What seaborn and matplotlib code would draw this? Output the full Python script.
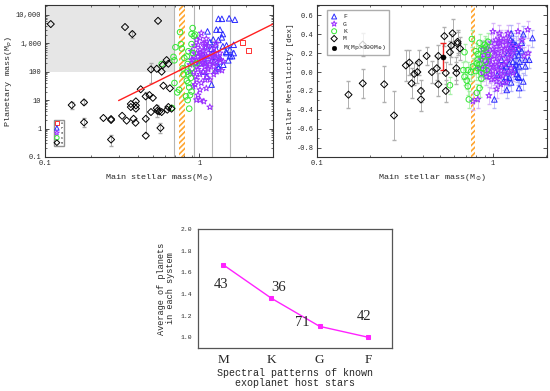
import numpy as np
import pandas as pd
import matplotlib
matplotlib.use("Agg")
import matplotlib.pyplot as plt
import seaborn as sns
from matplotlib.patches import Rectangle
from matplotlib.ticker import FixedLocator, LogLocator, MultipleLocator, NullFormatter

# ---------------- data: panel 1 (planet mass vs stellar mass) ----------------
a_mass_1 = [1.91, 2.08]
a_mp_1 = [1070, 560]

f_mass_1 = [1.33, 1.40, 1.56, 1.70, 1.13, 1.29, 1.36, 1.42, 1.23, 1.33, 1.50, 1.58, 1.67, 1.63,
            1.20, 1.27, 1.36, 1.33, 1.33, 1.20, 1.12, 1.22, 1.24, 1.09, 1.42, 1.49, 1.29, 1.27,
            1.14, 1.06, 1.00, 1.40, 1.58, 1.36, 1.27, 1.50, 1.06, 1.11, 1.43, 1.54, 1.17, 1.67]
f_mp_1 = [7200, 7200, 7500, 6700, 2600, 3000, 3000, 2100, 1350, 1300, 840, 600, 450, 350,
          640, 340, 300, 150, 130, 35, 68, 450, 230, 200, 780, 500, 600, 900,
          300, 100, 200, 1600, 350, 230, 110, 450, 400, 780, 175, 250, 1100, 880]

g_mass_1 = [1.03, 1.11, 1.09, 0.98, 0.93, 1.01, 0.96, 0.92, 1.06, 1.14,
            1.07, 1.00, 0.94, 0.89, 1.03, 1.11, 1.17, 0.98, 1.06, 1.14,
            1.24, 1.29, 1.36, 1.22, 1.27, 1.01, 1.09, 0.94, 0.96, 1.01,
            0.96, 1.07, 1.17, 1.17, 0.98, 1.03, 0.89, 0.87, 0.92, 0.94,
            1.11, 1.24, 1.29, 1.40, 1.43, 1.33, 1.24, 1.14, 1.06, 1.29,
            1.01, 0.96, 1.09, 1.17, 1.03, 0.96, 1.09, 1.20, 1.36, 1.01,
            0.91, 1.11, 1.24, 1.06, 1.14, 0.87, 0.91, 1.01, 1.11, 0.98, 1.03]
g_mp_1 = [2260, 1430, 1000, 880, 820, 590, 450, 340, 520, 450,
          300, 260, 200, 260, 180, 200, 180, 120, 100, 120,
          150, 200, 260, 340, 450, 80, 52, 35, 52, 23,
          10.2, 9, 5.7, 52, 340, 400, 520, 175, 95, 68,
          80, 80, 100, 110, 230, 300, 670, 780, 1000, 1000,
          1500, 1320, 700, 340, 260, 150, 150, 230, 450, 450,
          260, 340, 340, 200, 130, 100, 30, 10, 26, 15, 40]

k_mass_1 = [0.69, 0.68, 0.75, 0.76, 0.70, 0.905, 0.89, 0.94, 0.89, 0.83,
            0.84, 0.84, 0.89, 0.85, 0.83, 0.85, 0.89, 0.82, 0.84, 0.87,
            0.86, 0.69, 0.72, 0.74, 0.665, 0.57, 0.79, 0.77, 0.85, 0.96,
            0.80, 0.88, 0.92, 0.78, 0.86, 0.91]
k_mp_1 = [250, 330, 2450, 930, 720, 3400, 2100, 2000, 930, 340,
          185, 100, 130, 80, 48, 40, 20, 13.5, 10, 15,
          5.0, 40, 18.6, 23, 5.3, 185, 80, 650, 520, 200,
          300, 60, 1800, 130, 28, 450]

m_mass_1 = [0.109, 0.33, 0.368, 0.54, 0.486, 0.53, 0.57, 0.614, 0.63, 0.58,
            0.417, 0.449, 0.475, 0.50, 0.585, 0.645, 0.36, 0.36, 0.388, 0.388,
            0.388, 0.53, 0.535, 0.57, 0.63, 0.486, 0.149, 0.179, 0.179, 0.239,
            0.268, 0.268, 0.316, 0.338, 0.375, 0.386, 0.45, 0.268, 0.45, 0.56,
            0.66, 0.62, 0.55]
m_mp_1 = [4700, 3700, 2100, 6100, 120, 126, 100, 255, 190, 170,
          24, 13.5, 15, 12, 32, 26, 7.3, 5.7, 9, 6.5,
          5.0, 5.2, 4.2, 3.8, 5.7, 3.8, 6.7, 8.3, 1.65, 2.35,
          2.15, 2.0, 2.8, 1.9, 2.2, 1.6, 2.2, 0.41, 0.56, 1.05,
          5.0, 4.6, 4.0]

# error ranges of some M-dwarf planets (lower / upper planetary mass)
m_err_mass_1 = [0.486, 0.45, 0.56, 0.268, 0.179, 0.149, 0.368, 0.535, 0.179]
m_err_mp_1 = [120, 2.2, 1.05, 0.41, 1.65, 6.7, 2100, 4.2, 8.3]
m_err_low_1 = [40, 0.7, 0.7, 0.25, 1.1, 5.0, 1500, 2.5, 7.0]
m_err_high_1 = [200, 20, 1.6, 0.6, 2.4, 8.5, 2600, 6.5, 10]

fit_intercept = 2.39   # log10(Mp) at M = 1 Msun
fit_slope = 2.69
fit_mass_range = [0.30, 3.0]

shade_mass = [0.1, 0.685]
shade_mp_min = 100
grey_lines_mass = [0.685, 0.93, 1.21, 1.58]
hatch_band = [0.735, 0.805]

# ---------------- data: panel 2 (metallicity vs stellar mass) ----------------
f_mass_2 = [1.68, 1.49, 1.27, 1.26, 1.37, 1.46, 1.61, 1.53, 1.35, 1.30,
            1.22, 1.33, 1.40, 1.35, 1.41, 1.33, 1.37, 1.39, 1.41, 1.49,
            1.41, 1.20, 1.02, 1.15, 1.24, 1.23, 1.19, 1.16, 1.30, 1.12,
            1.24, 1.42, 1.30, 1.46, 1.06, 1.12, 1.27, 1.19, 1.33, 1.53, 1.27, 1.40]
f_feh_2 = [0.36, 0.40, 0.41, 0.34, 0.22, 0.22, 0.13, 0.13, 0.29, 0.25,
           0.20, 0.17, 0.18, 0.08, 0.06, 0.02, -0.02, -0.05, -0.06, -0.10,
           -0.17, -0.19, -0.29, -0.10, -0.06, 0.01, 0.06, 0.02, 0.11, 0.13,
           0.09, 0.11, 0.32, 0.31, -0.03, 0.07, -0.11, -0.05, 0.04, 0.06, 0.27, 0.25]

g_mass_2 = [1.0, 1.09, 1.22, 1.39, 1.58, 1.59, 0.82, 0.77, 0.95, 1.05,
            0.94, 1.0, 1.05, 1.09, 1.14, 1.19, 1.12, 1.07, 1.02, 0.96,
            0.92, 0.98, 1.04, 1.09, 1.14, 1.16, 1.22, 1.24, 1.27, 0.94,
            1.0, 1.07, 1.12, 1.16, 0.96, 1.02, 1.09, 1.05, 0.98, 0.92,
            0.88, 0.9, 0.86, 0.89, 0.93, 0.98, 1.04, 1.11, 1.19, 1.24,
            1.3, 1.31, 1.23, 1.19, 1.14, 1.21, 1.3, 1.27, 1.11, 1.19,
            1.0, 0.95, 1.05, 1.09, 1.02, 0.84, 1.41, 1.51, 1.47, 1.07, 0.88]
g_feh_2 = [0.43, 0.41, 0.41, 0.43, 0.45, 0.20, -0.29, -0.31, -0.25, -0.18,
           0.20, 0.24, 0.27, 0.31, 0.32, 0.29, 0.25, 0.20, 0.17, 0.15,
           0.09, 0.08, 0.11, 0.15, 0.18, 0.23, 0.25, 0.22, 0.17, 0.02,
           0.01, 0.02, 0.01, 0.08, -0.03, -0.05, -0.05, -0.10, -0.08, -0.05,
           -0.01, 0.06, 0.13, 0.18, 0.25, 0.31, 0.34, 0.36, 0.36, 0.32,
           0.27, 0.22, 0.15, 0.11, -0.04, -0.01, -0.01, 0.04, -0.13, -0.11,
           0.06, 0.13, 0.06, 0.08, 0.22, 0.04, 0.27, 0.17, 0.34, 0.31, 0.24]

k_mass_2 = [0.76, 0.69, 0.72, 0.68, 0.69, 0.71, 0.72, 0.73, 0.57, 0.80,
            0.82, 0.84, 0.86, 0.89, 0.90, 0.92, 0.88, 0.82, 0.84, 0.88,
            0.92, 0.82, 0.80, 0.86, 0.81, 0.84, 0.94, 0.91, 0.77, 0.75,
            0.81, 0.86, 0.94]
k_feh_2 = [0.35, 0.21, 0.02, 0.02, -0.05, -0.09, -0.15, -0.29, -0.14, 0.22,
           0.19, 0.31, 0.24, 0.25, 0.29, 0.27, 0.17, 0.13, 0.08, 0.04,
           0.02, 0.04, 0.01, -0.01, -0.22, -0.17, 0.18, 0.11, 0.06, 0.0,
           0.09, -0.07, 0.32]

m_mass_2 = [0.151, 0.182, 0.182, 0.241, 0.274, 0.32, 0.335, 0.345, 0.357, 0.372,
            0.38, 0.39, 0.39, 0.42, 0.45, 0.48, 0.49, 0.49, 0.53, 0.54,
            0.54, 0.57, 0.59, 0.58, 0.62, 0.62, 0.63, 0.63, 0.65]
m_feh_2 = [-0.24, 0.29, -0.12, -0.13, -0.46, 0.07, 0.10, -0.12, -0.02, 0.0,
           0.10, -0.20, -0.29, 0.17, 0.0, 0.04, 0.17, -0.13, 0.38, -0.20,
           -0.01, 0.21, 0.41, 0.28, 0.04, -0.01, 0.32, 0.30, 0.25]
m_err_2 = [0.14, 0.12, 0.15, 0.19, 0.26, 0.16, 0.13, 0.16, 0.12, 0.12,
           0.13, 0.12, 0.12, 0.10, 0.12, 0.12, 0.12, 0.12, 0.10, 0.12,
           0.12, 0.12, 0.15, 0.12, 0.12, 0.12, 0.12, 0.12, 0.12]
fgk_err_2 = 0.09

mh_mass_2 = [0.52]
mh_feh_2 = [0.16]
mh_err_low_2 = [0.14]
mh_err_high_2 = [0.15]

# ---------------- data: panel 3 ----------------
spec_types = ["M", "K", "G", "F"]
avg_planets = [1.67, 1.36, 1.10, 1.00]
n_systems = [43, 36, 71, 42]
count_label_dx = [-0.05, 0.14, -0.35, -0.08]
count_label_y = [1.49, 1.46, 1.14, 1.19]

# ---------------- style ----------------
sns.set_theme(style="ticks")
plt.rcParams["font.family"] = ["Liberation Mono", "DejaVu Sans"]
plt.rcParams["axes.edgecolor"] = "#333333"
plt.rcParams["axes.linewidth"] = 0.8
plt.rcParams["hatch.linewidth"] = 1.2

C_A = "#ff3333"
C_F = "#2a2aff"
C_G = "#9b30ff"
C_K = "#33e833"
C_M = "#000000"
C_HATCH = "#ffa530"

fig = plt.figure(figsize=(5.5, 3.91), dpi=100)
ax1 = fig.add_axes([0.0818, 0.5985, 0.4145, 0.3887])
ax2 = fig.add_axes([0.5764, 0.5985, 0.418, 0.3887])
ax3 = fig.add_axes([0.36, 0.11, 0.3527, 0.3043])

MS = 16
LW = 0.7

def open_scatter(ax, x, y, marker, color, label, s=MS, z=3):
    sns.scatterplot(x=x, y=y, ax=ax, marker=marker, s=s, facecolors="none",
                    edgecolors=color, linewidths=LW, label=label, zorder=z, legend=False)

# ---- panel 1 ----
ax1.set_xscale("log")
ax1.set_yscale("log")
ax1.add_patch(Rectangle((shade_mass[0], shade_mp_min), shade_mass[1] - shade_mass[0], 1e6,
                        facecolor="#e6e6e6", edgecolor="none", zorder=0))
for xv in grey_lines_mass:
    ax1.axvline(xv, color="#b5b5b5", lw=0.8, zorder=1)
ax1.axvspan(hatch_band[0], hatch_band[1], facecolor="none", edgecolor=C_HATCH,
            hatch="//////", linewidth=0, zorder=1)
for xm, yc, lo, hi in zip(m_err_mass_1, m_err_mp_1, m_err_low_1, m_err_high_1):
    ax1.errorbar([xm], [yc], yerr=[[yc - lo], [hi - yc]], fmt="none", ecolor="#aaaaaa",
                 elinewidth=0.7, capsize=1.5, zorder=2)
fit_x = np.array(fit_mass_range)
fit_y = 10 ** (fit_intercept + fit_slope * np.log10(fit_x))
sns.lineplot(x=fit_x, y=fit_y, ax=ax1, color="#ff2020", lw=1.0, zorder=4)

open_scatter(ax1, a_mass_1, a_mp_1, "s", C_A, "A")
open_scatter(ax1, f_mass_1, f_mp_1, "^", C_F, "F")
open_scatter(ax1, g_mass_1, g_mp_1, "*", C_G, "G", s=21)
open_scatter(ax1, k_mass_1, k_mp_1, "o", C_K, "K")
open_scatter(ax1, m_mass_1, m_mp_1, "D", C_M, "M", s=13)

ax1.set_xlim(0.1, 3.0)
ax1.set_ylim(0.1, 22000)
ax1.yaxis.set_major_locator(FixedLocator([0.1, 1, 10, 100, 1000, 10000]))
ax1.set_yticklabels(["0.1", "1", "10", "100", "1,000", "10,000"])
ax1.xaxis.set_major_locator(FixedLocator([0.1, 1]))
ax1.set_xticklabels(["0.1", "1"])
ax1.xaxis.set_minor_locator(LogLocator(base=10, subs=np.arange(2, 10)))
ax1.yaxis.set_minor_locator(LogLocator(base=10, subs=np.arange(2, 10), numticks=20))
ax1.xaxis.set_minor_formatter(NullFormatter())
ax1.yaxis.set_minor_formatter(NullFormatter())
ax1.set_xlabel("Main stellar mass(M$_{\\odot}$)", fontsize=6.1, labelpad=3)
ax1.set_ylabel("Planetary mass(M$_p$)", fontsize=6.1, labelpad=1)
ax1.legend(loc="lower left", bbox_to_anchor=(0.03, 0.06), fontsize=2.6,
           markerscale=0.8, handlelength=1.0, handletextpad=0.6, labelspacing=0.25,
           borderpad=0.4, frameon=True, fancybox=False, edgecolor="#777777")

# ---- panel 2 ----
ax2.set_xscale("log")
ax2.axvspan(hatch_band[0] + 0.012, hatch_band[1] - 0.012, facecolor="none", edgecolor=C_HATCH,
            hatch="//////", linewidth=0, zorder=1)
ax2.errorbar(k_mass_2, k_feh_2, yerr=fgk_err_2, fmt="none", ecolor="#99ee99",
             elinewidth=0.6, capsize=1.2, alpha=0.8, zorder=2)
ax2.errorbar(g_mass_2, g_feh_2, yerr=fgk_err_2, fmt="none", ecolor="#d0a8f8",
             elinewidth=0.6, capsize=1.2, alpha=0.8, zorder=2)
ax2.errorbar(f_mass_2, f_feh_2, yerr=fgk_err_2, fmt="none", ecolor="#a8a8f8",
             elinewidth=0.6, capsize=1.2, alpha=0.8, zorder=2)
ax2.errorbar(m_mass_2, m_feh_2, yerr=m_err_2, fmt="none", ecolor="#b0b0b0",
             elinewidth=0.7, capsize=1.5, zorder=2)
ax2.errorbar(mh_mass_2, mh_feh_2, yerr=[mh_err_low_2, mh_err_high_2], fmt="none",
             ecolor="#ee2222", elinewidth=1.0, capsize=2, zorder=3)

open_scatter(ax2, f_mass_2, f_feh_2, "^", C_F, "F")
open_scatter(ax2, g_mass_2, g_feh_2, "*", C_G, "G", s=21)
open_scatter(ax2, k_mass_2, k_feh_2, "o", C_K, "K")
open_scatter(ax2, m_mass_2, m_feh_2, "D", C_M, "M", s=13)
sns.scatterplot(x=mh_mass_2, y=mh_feh_2, ax=ax2, marker="o", s=14, color="black",
                edgecolor="black", label="M(Mp>100M$_{\\oplus}$)", zorder=4, legend=False)

ax2.set_xlim(0.1, 2.03)
ax2.set_ylim(-0.9, 0.71)
ax2.xaxis.set_major_locator(FixedLocator([0.1, 1]))
ax2.set_xticklabels(["0.1", "1"])
ax2.xaxis.set_minor_locator(LogLocator(base=10, subs=np.arange(2, 10)))
ax2.xaxis.set_minor_formatter(NullFormatter())
ax2.yaxis.set_major_locator(FixedLocator([-0.8, -0.6, -0.4, -0.2, 0.0, 0.2, 0.4, 0.6]))
ax2.set_yticklabels(["-0.8", "-0.6", "-0.4", "-0.2", "0.0", "0.2", "0.4", "0.6"])
ax2.yaxis.set_minor_locator(MultipleLocator(0.1))
ax2.set_xlabel("Main stellar mass(M$_{\\odot}$)", fontsize=6.1, labelpad=3)
ax2.set_ylabel("Stellar Metallicity [dex]", fontsize=5.6, labelpad=2)
ax2.legend(loc="upper left", bbox_to_anchor=(0.03, 0.985), fontsize=4.6,
           markerscale=0.9, handlelength=1.2, handletextpad=0.8, labelspacing=0.3,
           borderpad=0.5, frameon=True, fancybox=False, edgecolor="#999999")

for ax in (ax1, ax2):
    ax.tick_params(which="both", direction="in", top=True, right=True, labelsize=5.0,
                   color="#333333", pad=2.5)
    ax.tick_params(which="major", length=3, width=0.6)
    ax.tick_params(which="minor", length=1.5, width=0.5)

# ---- panel 3 ----
x3 = np.arange(len(spec_types))
sns.lineplot(x=x3, y=avg_planets, ax=ax3, color="#ff22ff", lw=1.0, marker="s",
             markersize=2.5, markeredgecolor="#ff22ff")
for xi, dx, ly, n in zip(x3, count_label_dx, count_label_y, n_systems):
    ax3.text(xi + dx, ly, str(n), fontsize=10.5, ha="center", va="center",
             family="Liberation Serif")
ax3.set_xlim(-0.52, 3.5)
ax3.set_ylim(0.9, 2.0)
ax3.set_xticks(x3)
ax3.set_xticklabels(spec_types, fontsize=9.5, family="Liberation Serif")
ax3.yaxis.set_major_locator(FixedLocator([1.0, 1.2, 1.4, 1.6, 1.8, 2.0]))
ax3.set_yticklabels(["1.0", "1.2", "1.4", "1.6", "1.8", "2.0"])
ax3.tick_params(axis="y", labelsize=4.6, direction="in", length=0, pad=4)
ax3.tick_params(axis="x", direction="in", length=0, pad=4)
ax3.set_xlabel("Spectral patterns of known\nexoplanet host stars", fontsize=7.2,
               labelpad=2, linespacing=1.0)
ax3.set_ylabel("Average of planets\nin each system", fontsize=6.2, labelpad=4,
               linespacing=1.0)
for sp in ax3.spines.values():
    sp.set_color("#555555")
    sp.set_linewidth(0.9)

fig.savefig("out.png", dpi=100)
